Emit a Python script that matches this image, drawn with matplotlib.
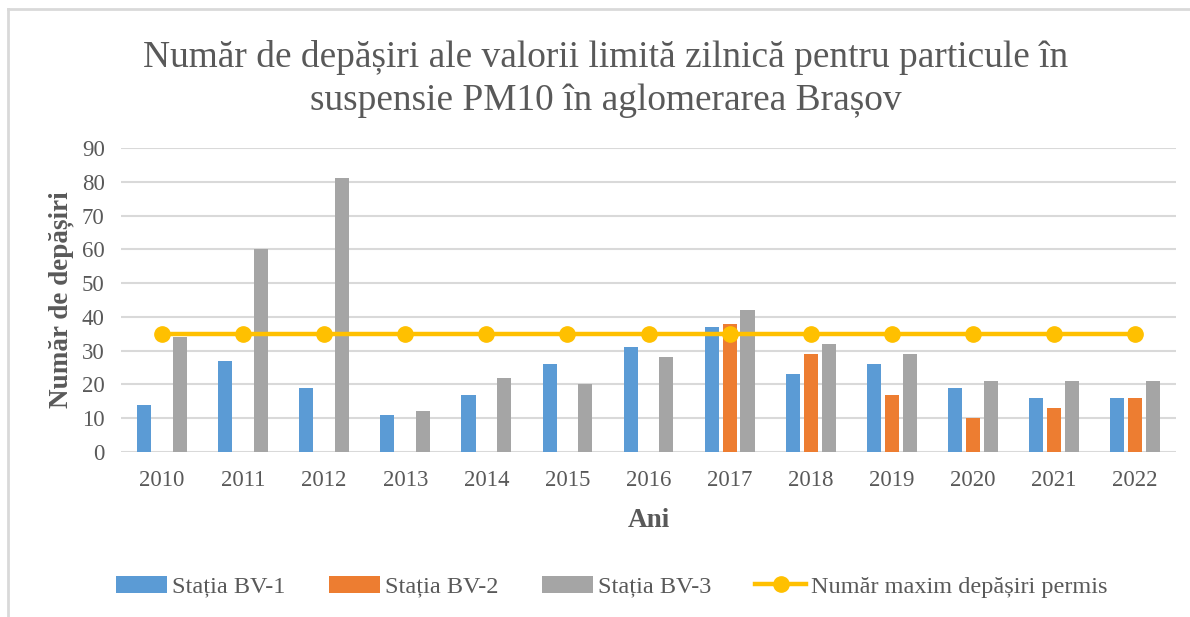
import matplotlib.pyplot as plt
import numpy as np

plt.rcParams['font.family'] = ['Liberation Serif', 'DejaVu Serif']

ani = ['2010', '2011', '2012', '2013', '2014', '2015', '2016',
       '2017', '2018', '2019', '2020', '2021', '2022']
bv1 = [14, 27, 19, 11, 17, 26, 31, 37, 23, 26, 19, 16, 16]
bv2 = [0, 0, 0, 0, 0, 0, 0, 38, 29, 17, 10, 13, 16]
bv3 = [34, 60, 81, 12, 22, 20, 28, 42, 32, 29, 21, 21, 21]
limita = [35] * 13

text_col = '#595959'

fig = plt.figure(figsize=(11.9, 6.17), dpi=100)
ax = fig.add_axes([0.102, 0.2674, 0.886, 0.4927])

x = np.arange(len(ani))
w = 0.175
off = 0.22
b1 = ax.bar(x - off, bv1, w, color='#5B9BD5', label='Stația BV-1', zorder=2)
b2 = ax.bar(x, bv2, w, color='#ED7D31', label='Stația BV-2', zorder=2)
b3 = ax.bar(x + off, bv3, w, color='#A5A5A5', label='Stația BV-3', zorder=2)
ln, = ax.plot(x, limita, color='#FFC000', lw=3.2, marker='o', markersize=11,
              label='Număr maxim depășiri permis', zorder=3)

ax.set_xlim(-0.5, len(ani) - 0.5)
ax.set_ylim(0, 90)
ax.set_yticks(range(0, 91, 10))
ax.set_xticks(x)
ax.set_xticklabels(ani)
ax.tick_params(length=0, labelsize=16.5, labelcolor=text_col)
ax.tick_params(axis='x', pad=13)
ax.tick_params(axis='y', pad=12)
ax.grid(axis='y', color='#D9D9D9', lw=1.5, zorder=0)
for s in ax.spines.values():
    s.set_visible(False)

ax.set_ylabel('Număr de depășiri', fontsize=19.5, fontweight='bold', color=text_col, labelpad=6)
ax.set_xlabel('Ani', fontsize=19.5, fontweight='bold', color=text_col, labelpad=12)

fig.text(0.509, 0.872, 'Număr de depășiri ale valorii limită zilnică pentru particule în\n'
         'suspensie PM10 în aglomerarea Brașov', ha='center', va='center',
         fontsize=26.9, color=text_col, linespacing=1.3)

fig.legend([b1, b2, b3, ln], [b1.get_label(), b2.get_label(), b3.get_label(), ln.get_label()],
           loc='center', bbox_to_anchor=(0.514, 0.049), ncol=4, frameon=False,
           fontsize=17.5, labelcolor=text_col, handlelength=2.1, handletextpad=0.2,
           columnspacing=1.8)

# chenar
fig.add_artist(plt.Line2D([8 / 1190, 8 / 1190], [0, 1 - 9 / 617], color='#D9D9D9', lw=2))
fig.add_artist(plt.Line2D([8 / 1190, 1], [1 - 9 / 617, 1 - 9 / 617], color='#D9D9D9', lw=2))

fig.savefig('out.png', dpi=100)
